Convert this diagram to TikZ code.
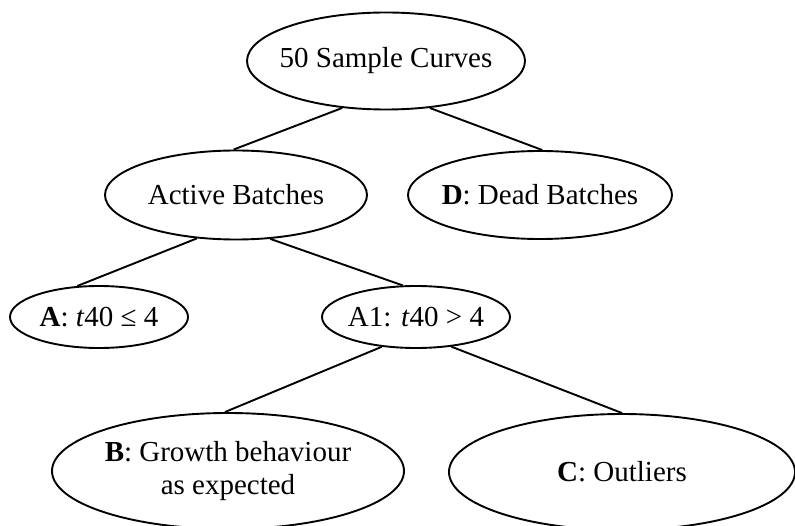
\documentclass[tikz,border=0pt]{standalone}
\usepackage{fontspec}
\setmainfont{Liberation Serif}
\usetikzlibrary{shapes.geometric}

\begin{document}
\begin{tikzpicture}[x=1pt,y=1pt,
    blob/.style={ellipse,draw,line width=1.9pt,inner xsep=-20pt,inner ysep=0pt,
      font=\fontsize{29}{33}\selectfont,align=center},
    branch/.style={line width=1.9pt}]
  \useasboundingbox (0,0) rectangle (795,525);
  % nodes, sized as drawn (width x height)
  \node[blob,minimum width=278,minimum height=97] (curves) at (386,464) {50 Sample Curves};
  \node[blob,minimum width=262,minimum height=89] (active) at (236,330) {Active Batches};
  \node[blob,minimum width=264,minimum height=88] (dead) at (540,330) {\textbf{D}: Dead Batches};
  \node[blob,minimum width=178,minimum height=62] (fast) at (99,208) {\textbf{A}: \textit{t}40 ≤ 4};
  \node[blob,minimum width=188,minimum height=62] (slow) at (416,208) {A1: \textit{t}40 > 4};
  \node[blob,minimum width=352,minimum height=116] (growth) at (228,54) {\textbf{B}: Growth behaviour\\as expected};
  \node[blob,minimum width=346,minimum height=116] (outlier) at (622,53) {\textbf{C}: Outliers};
  % branches
  \draw[branch] (curves.-133) -- (active.93);
  \draw[branch] (curves.-47) -- (dead.87);
  \draw[branch] (active.-132) -- (fast.125);
  \draw[branch] (active.-52) -- (slow.113);
  \draw[branch] (slow.-139) -- (growth.93);
  \draw[branch] (slow.-40) -- (outlier.90);
\end{tikzpicture}
\end{document}
